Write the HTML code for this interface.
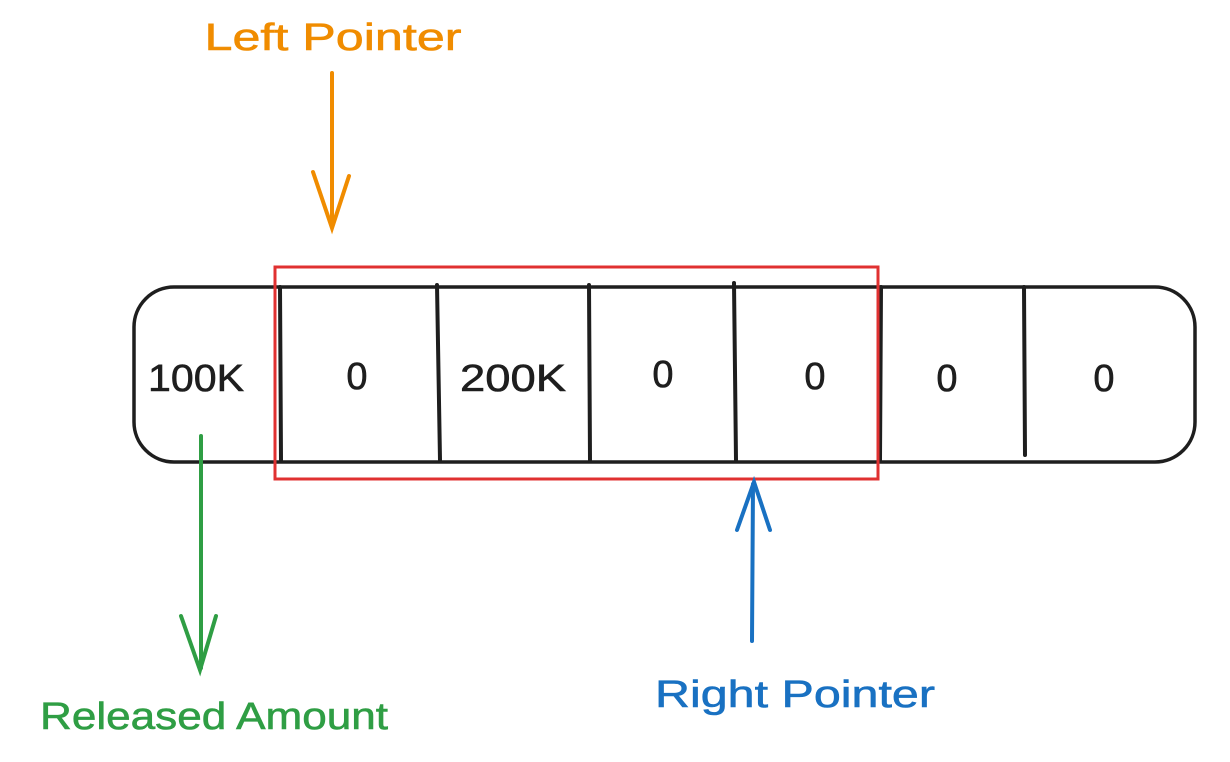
<!DOCTYPE html>
<html><head><meta charset="utf-8"><style>
html,body{margin:0;padding:0;background:#fff;}
svg{display:block}
text{font-family:"Liberation Sans",sans-serif;}
</style></head><body>
<svg width="1230" height="762" viewBox="0 0 1230 762" xmlns="http://www.w3.org/2000/svg">
<rect width="1230" height="762" fill="#fff"/>
<rect x="134" y="287" width="1061" height="175" rx="40" ry="40" fill="none" stroke="#1e1e1e" stroke-width="3.5"/>
<g stroke="#1e1e1e" stroke-width="4" stroke-linecap="round">
<line x1="280" y1="287" x2="281" y2="460"/>
<line x1="437" y1="285" x2="440" y2="460"/>
<line x1="589" y1="285" x2="590" y2="460"/>
<line x1="734" y1="283" x2="736" y2="460"/>
<line x1="881" y1="287" x2="880" y2="460"/>
<line x1="1024" y1="287" x2="1025" y2="455"/>
</g>
<rect x="275" y="267" width="603" height="212" fill="none" stroke="#e03131" stroke-width="3"/>
<g font-size="38" fill="#1e1e1e" stroke="#1e1e1e" stroke-width="0.6" text-anchor="middle">
<text x="196" y="391" textLength="96" lengthAdjust="spacingAndGlyphs">100K</text>
<text x="357" y="389">0</text>
<text x="513" y="391" textLength="106" lengthAdjust="spacingAndGlyphs">200K</text>
<text x="663" y="387">0</text>
<text x="815" y="389">0</text>
<text x="947" y="391">0</text>
<text x="1104" y="391">0</text>
</g>
<text x="333" y="50" font-size="38" fill="#f08c00" stroke="#f08c00" stroke-width="0.6" text-anchor="middle" textLength="257" lengthAdjust="spacingAndGlyphs">Left Pointer</text>
<g stroke="#f08c00" stroke-width="4" fill="none" stroke-linecap="round">
<line x1="332" y1="73" x2="332" y2="226"/>
<polyline points="313,172 332,228 349,176"/>
</g>
<g stroke="#2f9e44" stroke-width="4" fill="none" stroke-linecap="round">
<line x1="201" y1="436" x2="201" y2="668"/>
<polyline points="181,616 200,670 216,616"/>
</g>
<text x="214" y="729" font-size="38" fill="#2f9e44" stroke="#2f9e44" stroke-width="0.6" text-anchor="middle" textLength="348" lengthAdjust="spacingAndGlyphs">Released Amount</text>
<g stroke="#1971c2" stroke-width="4" fill="none" stroke-linecap="round">
<line x1="752" y1="641" x2="753" y2="484"/>
<polyline points="737,530 754,482 770,530"/>
</g>
<text x="795" y="707" font-size="38" fill="#1971c2" stroke="#1971c2" stroke-width="0.6" text-anchor="middle" textLength="280" lengthAdjust="spacingAndGlyphs">Right Pointer</text>
</svg>
</body></html>
